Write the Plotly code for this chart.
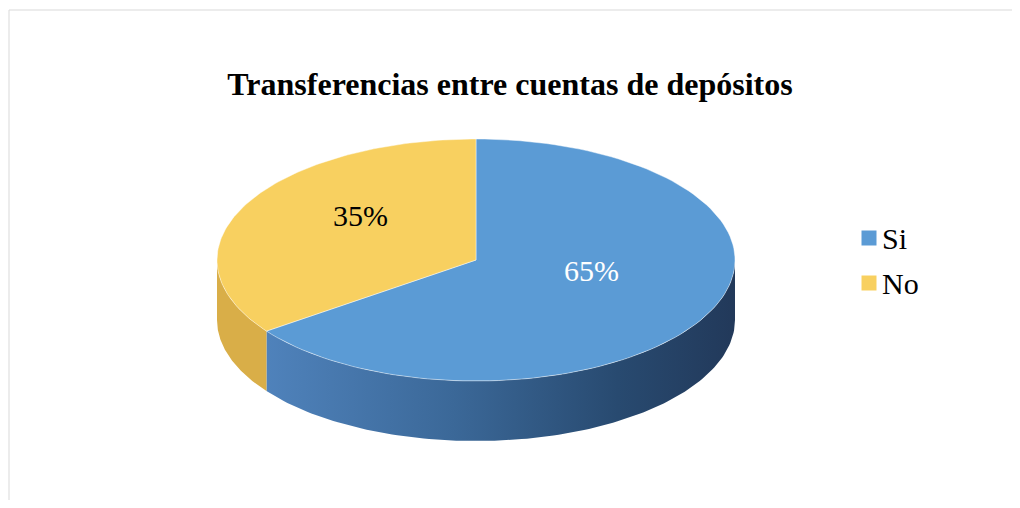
import numpy as np
import plotly.graph_objects as go

# Data
labels = ['Si', 'No']
values = [65, 35]
slice_colors = ['#5b9bd5', '#f8d060']
side_colors = ['#3a6797', '#d9ae48']
text_colors = ['white', 'black']

# Page geometry (pixel space, y pointing down); the page body adds an 8px margin,
# so the figure is kept small enough that the page never scrolls
OFF = 8
W, H = 1020 - 2 * OFF, 508 - 2 * OFF
cx, cy = 476 - OFF, 260 - OFF
rx, ry = 259, 121
depth = 60


def arc(a0, a1, n=120, dy=0):
    t = np.radians(np.linspace(a0, a1, n))
    return cx + rx * np.cos(t), cy + dy - ry * np.sin(t)


fig = go.Figure()

# Slice angles: start at 12 o'clock, run clockwise
total = sum(values)
angles = []
start = 90.0
for v in values:
    end = start - 360.0 * v / total
    angles.append((start, end))
    start = end

# Side walls (only the front half, 180..360 deg, is visible)
for i, (a0, a1) in enumerate(angles):
    lo = min(a0, a1) % 360
    hi = lo + abs(a0 - a1)
    s0, s1 = max(lo, 180), min(hi, 360)
    if s1 <= s0:
        continue
    tx, ty = arc(s0, s1)
    bx, by = arc(s1, s0, dy=depth)
    xs = np.concatenate([tx, bx, tx[:1]])
    ys = np.concatenate([ty, by, ty[:1]])
    kw = dict(fillcolor=side_colors[i])
    if i == 0:
        kw = dict(fillgradient=dict(type='horizontal', colorscale=[
            [0, '#4f82bb'], [0.4, '#3b6898'], [0.75, '#284a70'], [1, '#22395a']]))
    fig.add_trace(go.Scatter(x=xs, y=ys, mode='lines', fill='toself',
                             line=dict(width=0), showlegend=False,
                             hoverinfo='skip', **kw))

# Top surface slices
for i, (a0, a1) in enumerate(angles):
    ax, ay = arc(a0, a1)
    xs = np.concatenate([[cx], ax, [cx]])
    ys = np.concatenate([[cy], ay, [cy]])
    fig.add_trace(go.Scatter(x=xs, y=ys, mode='lines', fill='toself',
                             fillcolor=slice_colors[i],
                             line=dict(width=0.8, color='rgba(255,255,255,0.55)'),
                             showlegend=False, hoverinfo='skip'))

# Percentage labels
for i, (a0, a1) in enumerate(angles):
    mid = np.radians((a0 + a1) / 2)
    fig.add_annotation(x=cx + 0.5 * rx * np.cos(mid), y=cy - 17 - 0.5 * ry * np.sin(mid),
                       text=f"{values[i] / total * 100:.0f}%", showarrow=False,
                       font=dict(family='Liberation Serif', size=30, color=text_colors[i]))

# Legend (drawn by hand for exact placement)
leg_x, leg_y, leg_step = 869 - OFF, 238 - OFF, 45
for i, lab in enumerate(labels):
    fig.add_trace(go.Scatter(x=[leg_x], y=[leg_y + i * leg_step], mode='markers',
                             name=lab, showlegend=False, hoverinfo='skip',
                             marker=dict(symbol='square', size=15, color=slice_colors[i])))
    fig.add_annotation(x=leg_x + 11, y=leg_y + i * leg_step, text=lab, showarrow=False,
                       xanchor='left', yanchor='middle',
                       font=dict(family='Liberation Serif', size=30, color='black'))

# Chart border (only top and left edges are visible)
border = dict(color='#d9d9d9', width=1)
fig.add_shape(type='line', x0=9 - OFF, y0=10 - OFF, x1=W, y1=10 - OFF, line=border)
fig.add_shape(type='line', x0=9 - OFF, y0=10 - OFF, x1=9 - OFF, y1=H, line=border)

fig.update_layout(
    width=W, height=H,
    margin=dict(l=0, r=0, t=0, b=0),
    paper_bgcolor='white', plot_bgcolor='white',
    title=dict(text='<b>Transferencias entre cuentas de depósitos</b>',
               x=(510 - OFF) / W, xanchor='center', y=1 - (84 - OFF) / H, yanchor='middle',
               font=dict(family='Liberation Serif', size=32, color='black')),
    xaxis=dict(range=[0, W], visible=False, fixedrange=True),
    yaxis=dict(range=[H, 0], visible=False, fixedrange=True),
    showlegend=False,
)

fig.write_html("out.html")
